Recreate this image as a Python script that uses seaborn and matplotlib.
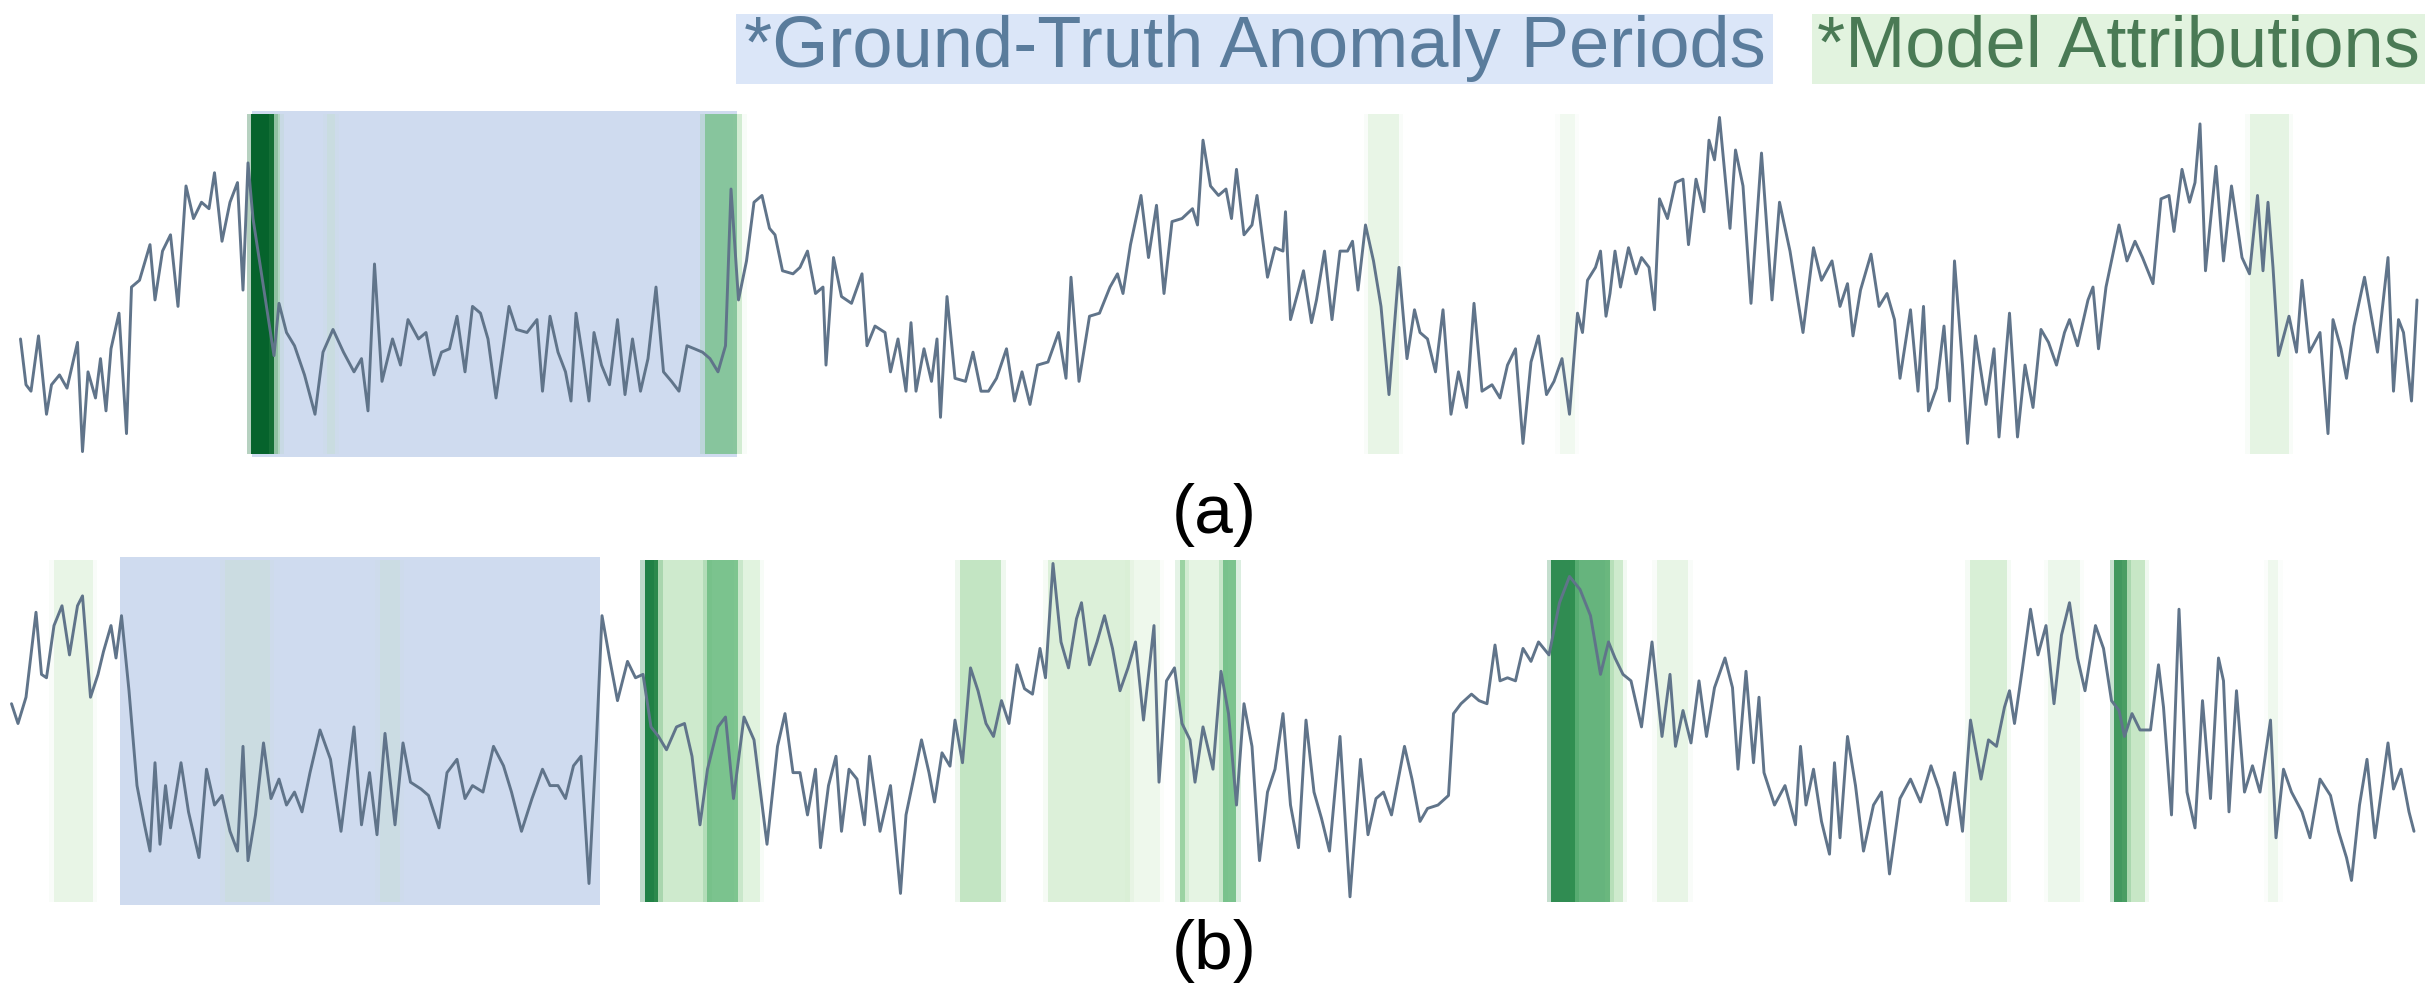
import matplotlib
matplotlib.use("Agg")
import matplotlib.pyplot as plt
import seaborn as sns
from matplotlib.patches import Rectangle

# ---------------- data ----------------
panel_labels = ["(a)", "(b)"]
legend_labels = ["*Ground-Truth Anomaly Periods", "*Model Attributions"]

time_a = [
    4.1, 5.2, 6.2, 7.7, 9.3, 10.3, 11.9, 13.4, 15.5, 16.5,
    17.6, 19.1, 20.1, 21.2, 22.2, 23.8, 25.3, 26.3, 27.9, 30.0,
    31.0, 32.5, 34.1, 35.6, 37.2, 38.7, 40.3, 41.8, 42.9, 44.4,
    46.0, 47.5, 48.6, 49.6, 50.6, 54.8, 55.8, 57.3, 58.9, 60.9,
    63.0, 64.6, 66.6, 68.7, 70.8, 72.3, 73.6, 74.9, 76.4, 78.5,
    80.1, 81.6, 83.7, 85.2, 86.8, 88.3, 89.9, 91.4, 93.0, 94.5,
    96.1, 97.6, 99.2, 100.7, 101.8, 103.3, 105.4, 107.4, 108.5, 110.0,
    111.6, 113.1, 114.2, 115.2, 116.7, 117.8, 118.8, 120.3, 121.9, 123.5,
    125.0, 126.5, 128.1, 129.6, 131.2, 132.7, 134.3, 135.8, 137.4, 138.9,
    140.5, 142.0, 143.6, 145.1, 146.2, 147.7, 149.3, 150.8, 152.4, 153.9,
    155.0, 156.5, 158.6,
    160.0, 161.5, 163.1, 164.6, 165.2, 166.7, 168.3, 170.3, 172.4, 173.4,
    175.0, 177.0, 178.1, 179.6, 181.2, 182.2, 183.2, 184.8, 186.3, 187.4,
    188.1, 189.4, 191.0, 193.1, 194.6, 196.2, 197.7, 199.3, 201.3, 202.9,
    204.4, 206.0, 207.5, 209.6, 211.7, 213.2, 214.2, 215.8, 217.9, 219.9,
    222.0, 223.5, 224.6, 226.1, 228.2, 229.7, 231.3, 232.8, 234.4, 236.4,
    238.5, 239.5, 240.6, 242.1, 243.7, 245.2, 246.3, 247.3, 248.8, 250.4,
    251.4, 253.5, 255.0, 256.6, 257.1, 258.1, 259.7, 260.7, 262.3, 263.3,
    264.9, 266.4, 268.0, 269.5, 270.5, 271.6, 273.1, 274.7, 276.2, 277.8,
    279.8, 281.4, 282.9, 284.0, 285.5, 287.1, 288.6, 290.2, 291.7, 293.3,
    294.8, 296.4, 298.4, 300.0, 301.5, 303.1, 304.6, 306.2, 307.7, 309.3,
    310.8, 312.4, 313.9, 315.5, 316.5, 317.5, 319.1, 320.1, 321.2,
    322.0, 323.0, 324.1, 325.7, 327.2, 328.3, 329.8, 330.9, 331.9, 333.5,
    335.1, 336.6, 337.7, 339.2, 340.8, 341.8, 342.9, 343.9, 346.0, 347.1,
    348.6, 350.2, 352.3, 354.4, 355.9, 358.0, 360.6, 362.7, 364.3, 366.4,
    368.0, 369.5, 370.6, 372.1, 374.2, 375.8, 377.4, 378.9, 380.0, 382.1,
    383.6, 384.7, 385.7, 387.3, 388.8, 389.9, 390.9, 392.5, 393.5, 395.1,
    397.2, 398.8, 399.8, 401.9, 403.5, 405.0, 406.6, 408.2, 409.7, 411.3,
    412.9, 413.9, 415.5, 417.6, 418.6, 419.7, 421.2, 423.8, 425.4, 427.0,
    428.5, 430.6, 432.2, 433.8, 434.8, 436.4, 437.9, 439.0, 440.0, 441.1,
    443.2, 444.7, 446.3, 448.4, 449.9, 451.5, 452.6, 453.6, 454.6, 455.7,
    457.8, 459.3, 460.4, 461.9, 464.0, 465.6, 466.6, 468.2, 469.3, 470.8,
    472.9, 475.5, 477.6, 478.7, 479.7, 480.7, 482.3, 483.4,
]
value_a = [
    33.8, 20.3, 18.4, 34.7, 11.6, 20.3, 23.2, 19.3, 32.8, 0.6,
    24.1, 16.4, 28.0, 12.6, 30.9, 41.4, 5.9, 49.1, 51.1, 61.6,
    45.3, 59.7, 64.5, 43.4, 78.9, 69.3, 74.1, 72.2, 82.8, 62.6,
    74.1, 79.9, 48.2, 85.7, 69.3, 28.9, 44.3, 35.7, 31.8, 23.2,
    11.6, 29.9, 36.6, 29.9, 24.1, 28.0, 12.6, 55.9, 21.3, 33.8,
    26.1, 39.5, 33.8, 35.7, 23.2, 29.9, 30.9, 40.5, 24.1, 43.4,
    41.4, 33.8, 16.4, 31.8, 43.4, 36.6, 35.7, 39.5, 18.4, 40.5,
    29.9, 24.1, 15.5, 41.4, 27.0, 15.5, 35.7, 26.1, 20.3, 39.5,
    17.4, 33.8, 18.4, 28.0, 49.1, 24.1, 21.3, 18.4, 31.8, 30.9,
    29.9, 28.0, 24.1, 31.8, 78.0, 45.3, 56.8, 74.1, 76.1, 66.4,
    64.5, 53.9, 53.0,
    54.9, 59.7, 47.2, 49.1, 26.1, 57.8, 46.3, 44.3, 53.0, 31.8,
    37.6, 35.7, 24.1, 33.8, 18.4, 38.6, 18.4, 30.9, 21.3, 33.8,
    10.7, 46.3, 22.2, 21.3, 29.9, 18.4, 18.4, 22.2, 30.9, 15.5,
    24.1, 14.5, 26.1, 27.0, 35.7, 22.2, 52.0, 21.3, 40.5, 41.4,
    49.1, 53.0, 47.2, 61.6, 76.1, 57.8, 73.2, 47.2, 68.4, 69.3,
    72.2, 67.4, 92.4, 78.9, 76.1, 78.0, 69.3, 83.8, 64.5, 67.4,
    76.1, 52.0, 60.7, 59.7, 71.3, 39.5, 48.2, 53.9, 38.6, 45.3,
    59.7, 39.5, 59.7, 59.7, 62.6, 48.2, 67.4, 56.8, 43.4, 17.4,
    54.9, 28.0, 42.4, 35.7, 33.8, 24.1, 42.4, 11.6, 24.1, 13.6,
    44.3, 18.4, 20.3, 16.4, 26.1, 30.9, 3.0, 27.0, 34.7, 17.4,
    21.3, 28.0, 11.6, 41.4, 35.7, 51.1, 54.9, 59.7, 40.5,
    47.2, 59.7, 49.1, 60.7, 53.0, 57.8, 54.9, 42.4, 75.1, 69.3,
    79.9, 80.9, 61.6, 80.9, 71.3, 92.4, 86.6, 99.1, 66.4, 89.5,
    78.9, 44.3, 88.6, 45.3, 74.1, 59.7, 35.7, 60.7, 51.1, 56.8,
    43.4, 50.1, 34.7, 48.2, 58.8, 43.4, 47.2, 39.5, 22.2, 42.4,
    18.4, 43.4, 12.6, 19.3, 37.6, 15.5, 56.8, 26.1, 3.0, 34.7,
    14.5, 30.9, 4.9, 41.4, 4.9, 26.1, 13.6, 36.6, 32.8, 26.1,
    35.7, 39.5, 31.8, 45.3, 49.1, 30.9, 49.1, 67.4, 56.8, 62.6,
    57.8, 50.1, 75.1, 76.1, 65.5, 83.8, 74.1, 79.9, 97.2, 53.9,
    84.7, 56.8, 78.9, 57.8, 53.0, 76.1, 53.9, 74.1, 54.9, 28.9,
    40.5, 29.9, 51.1, 29.9, 35.7, 5.9, 39.5, 30.9, 22.2, 37.6,
    52.0, 29.9, 57.8, 18.4, 39.5, 35.7, 15.5, 45.3,
]

time_b = [
    2.3, 3.6, 5.2, 7.2, 8.3, 9.3, 10.8, 12.4, 13.9, 15.5,
    16.5, 18.1, 19.6, 20.7, 22.2, 23.2, 24.3, 25.8, 27.4, 28.9,
    30.0, 31.0, 32.0, 33.1, 34.1, 36.2, 37.7, 39.8, 41.3, 42.9,
    44.4, 46.0, 47.5, 48.6, 49.6, 51.1, 52.7, 54.2, 55.8, 57.3,
    58.9, 60.4, 62.0, 64.0, 66.1, 68.2, 70.8, 72.3, 73.9, 75.4,
    77.0, 79.0, 80.6, 82.1, 84.2, 85.7, 87.8, 89.4, 91.4, 93.0,
    94.5, 96.6, 98.7, 100.7, 102.3, 104.3, 106.4, 108.5, 110.0, 111.6,
    113.1, 114.7, 116.2, 117.8, 119.3, 120.4, 121.9, 123.5, 125.5, 127.1,
    128.6, 130.2, 131.7, 133.3, 135.3, 136.9, 138.4, 140.0, 141.5, 143.6,
    145.1, 146.7, 148.8, 150.8, 153.4, 155.5, 157.0, 158.6,
    160.0, 161.5, 163.1, 164.1, 165.7, 167.2, 168.3, 169.8, 171.4, 172.9,
    173.9, 176.0, 178.1, 180.1, 181.2, 182.7, 184.3, 185.8, 186.9, 188.4,
    190.0, 191.0, 192.5, 194.1, 195.6, 197.2, 198.7, 200.3, 201.8, 203.4,
    204.9, 206.5, 208.0, 209.1, 210.6, 212.2, 213.7, 215.3, 216.3, 217.9,
    219.4, 220.9, 222.5, 224.0, 225.6, 227.1, 228.7, 230.8, 231.8, 233.3,
    234.9, 236.4, 238.0, 239.0, 240.6, 242.6, 244.2, 245.7, 247.3, 248.8,
    250.4, 251.9, 253.5, 255.0, 256.6, 258.1, 259.7, 261.2, 262.8, 264.3,
    265.9, 268.0, 270.0, 272.1, 273.6, 275.2, 276.7, 278.3, 280.9, 282.4,
    284.0, 285.5, 287.6, 289.7, 290.7, 292.2, 294.3, 295.8, 297.4, 299.0,
    300.0, 301.5, 303.1, 304.6, 306.2, 307.7, 309.8, 311.9, 313.9, 316.0,
    318.1, 320.1, 321.7,
    323.0, 324.6, 326.2, 328.3, 330.4, 332.4, 334.0, 335.1, 336.6, 338.2,
    339.8, 341.3, 342.9, 345.0, 346.5, 347.6, 349.2, 350.7, 351.8, 352.8,
    354.9, 357.0, 359.1, 360.1, 361.2, 362.7, 364.3, 365.9, 366.9, 368.0,
    369.5, 371.1, 372.7, 374.7, 376.3, 377.9, 380.0, 382.1, 384.1, 386.2,
    387.8, 389.4, 390.9, 392.5, 394.1, 396.2, 397.7, 399.3, 400.9, 401.9,
    402.9, 404.5, 406.1, 407.6, 409.2, 410.8, 412.3, 413.9, 415.5, 417.0,
    419.1, 420.7, 422.3, 423.8, 424.9, 426.4, 428.0, 430.1, 431.7, 432.7,
    434.3, 435.8, 437.4, 439.0, 440.5, 442.1, 443.7, 444.7, 445.8, 447.3,
    448.9, 450.5, 452.0, 454.1, 455.2, 456.7, 458.3, 460.4, 462.0, 464.0,
    466.1, 467.7, 469.3, 470.3, 471.9, 473.4, 475.0, 476.6, 477.6, 478.7,
    480.2, 481.8, 482.8,
]
value_b = [
    58.0, 52.2, 59.9, 84.8, 66.6, 65.6, 80.9, 86.7, 72.3, 86.7,
    89.6, 59.9, 66.6, 73.3, 80.9, 71.4, 83.8, 61.8, 34.0, 22.5,
    14.8, 40.7, 16.8, 34.0, 21.6, 40.7, 26.3, 12.9, 38.8, 28.3,
    31.1, 20.6, 14.8, 45.5, 12.0, 25.4, 46.5, 30.2, 35.9, 28.3,
    32.1, 26.3, 37.8, 50.3, 41.7, 20.6, 51.2, 22.5, 37.8, 19.6,
    49.3, 22.5, 46.5, 35.0, 33.0, 31.1, 21.6, 37.8, 41.7, 30.2,
    34.0, 32.1, 45.5, 39.8, 32.1, 20.6, 30.2, 38.8, 34.0, 34.0,
    30.2, 39.8, 42.6, 5.3, 47.4, 83.8, 71.4, 58.9, 70.4, 65.6,
    66.6, 51.2, 48.4, 44.5, 51.2, 52.2, 42.6, 22.5, 38.8, 51.2,
    54.1, 30.2, 54.1, 47.4, 16.8, 45.5, 55.1, 37.8,
    37.8, 25.4, 38.8, 15.8, 34.0, 42.6, 20.6, 38.8, 35.9, 22.5,
    42.6, 20.6, 34.0, 2.4, 25.4, 35.9, 47.4, 37.8, 29.2, 43.6,
    39.7, 53.2, 40.7, 68.5, 61.8, 52.2, 48.4, 58.9, 52.2, 69.4,
    62.4, 60.8, 74.2, 65.6, 99.1, 76.1, 68.5, 82.9, 87.6, 69.4,
    76.1, 83.8, 74.2, 61.8, 68.5, 76.1, 53.2, 80.9, 35.0, 64.7,
    68.5, 52.2, 47.4, 35.0, 51.2, 38.8, 67.5, 55.1, 28.3, 58.0,
    45.5, 12.0, 32.1, 38.8, 55.1, 28.3, 15.8, 53.2, 32.1, 24.4,
    14.8, 48.4, 1.4, 41.7, 19.6, 30.2, 32.1, 25.4, 45.5, 35.9,
    23.5, 27.3, 28.3, 31.1, 55.1, 58.0, 60.8, 58.9, 58.0, 75.2,
    64.7, 65.6, 64.7, 74.2, 70.4, 76.1, 72.3, 87.6, 95.3, 91.5,
    83.8, 66.6, 76.1,
    71.4, 66.6, 64.7, 51.2, 76.1, 48.4, 66.6, 45.5, 56.0, 46.5,
    64.7, 48.4, 62.7, 71.4, 62.7, 38.8, 67.5, 40.7, 59.9, 37.8,
    28.3, 34.0, 22.5, 45.5, 28.3, 38.8, 23.5, 13.9, 40.7, 18.7,
    48.4, 34.0, 14.8, 28.3, 32.1, 8.1, 30.2, 35.9, 29.2, 39.8,
    33.0, 22.5, 37.8, 20.6, 53.2, 35.9, 47.4, 45.5, 57.0, 61.8,
    52.2, 68.5, 85.7, 72.3, 80.9, 58.0, 78.1, 87.6, 71.4, 61.8,
    80.9, 74.2, 58.9, 56.0, 48.4, 55.1, 50.3, 50.3, 69.4, 57.0,
    25.4, 85.7, 32.1, 21.6, 58.9, 30.2, 71.4, 64.7, 26.3, 61.8,
    32.1, 39.8, 32.1, 53.2, 18.7, 38.8, 32.1, 26.3, 18.7, 35.9,
    31.1, 20.6, 12.9, 6.2, 28.3, 41.7, 18.7, 35.9, 46.5, 33.0,
    38.8, 26.3, 20.6,
]

# ground-truth anomaly periods (time steps)
anomaly_a = [50.5, 147.5]
anomaly_b = [24.0, 120.0]

# model attributions: segment start, end and strength (0..1)
attr_a_start = [50.3, 54.8, 65.5, 141.0, 147.5, 273.6, 312.0, 450.0]
attr_a_end = [54.8, 56.0, 67.0, 147.5, 148.5, 279.8, 315.0, 457.8]
attr_a_strength = [0.95, 0.25, 0.06, 0.45, 0.12, 0.10, 0.02, 0.12]

attr_b_start = [10.8, 45.0, 76.0, 129.0, 131.7, 141.5, 147.7, 192.0, 209.6, 226.0,
                236.0, 237.0, 244.7, 310.3, 315.0, 322.0, 331.4, 394.0, 409.7, 422.8,
                425.4, 453.6]
attr_b_end = [18.6, 54.0, 80.0, 131.7, 141.5, 147.7, 152.0, 200.3, 226.0, 232.0,
              237.0, 244.7, 247.3, 315.0, 322.0, 324.6, 337.7, 401.4, 416.0, 425.4,
              429.0, 455.7]
attr_b_strength = [0.10, 0.04, 0.03, 0.85, 0.25, 0.55, 0.15, 0.30, 0.18, 0.06,
                   0.45, 0.12, 0.55, 0.80, 0.62, 0.25, 0.10, 0.20, 0.07, 0.75,
                   0.28, 0.04]

# ---------------- drawing ----------------
sns.set_theme(style="white")
plt.rcParams["font.family"] = ["Liberation Sans", "DejaVu Sans"]

W, H = 2429, 994
fig = plt.figure(figsize=(W / 100, H / 100), dpi=100)
fig.patch.set_facecolor("white")

ax_a = fig.add_axes([0.0, 1 - 457 / H, 1.0, 346 / H])
ax_b = fig.add_axes([0.0, 1 - 905 / H, 1.0, 348 / H])

greens = plt.get_cmap("Greens")
line_color = "#60748a"
box_color = "#cfdbef"

panels = [
    (ax_a, time_a, value_a, anomaly_a, attr_a_start, attr_a_end, attr_a_strength),
    (ax_b, time_b, value_b, anomaly_b, attr_b_start, attr_b_end, attr_b_strength),
]
for ax, t, v, anom, s0, s1, st in panels:
    ax.axvspan(anom[0], anom[1], color=box_color, lw=0, zorder=0)
    for a, b, s in zip(s0, s1, st):
        col = greens(0.25 + 0.7 * s)
        alpha = min(1.0, 0.15 + 0.85 * s)
        # soft halo around each attribution band
        ax.axvspan(a - 0.9, b + 0.9, ymin=0.01, ymax=0.99, color=col,
                   alpha=alpha * 0.3, lw=0, zorder=1)
        ax.axvspan(a, b, ymin=0.01, ymax=0.99, color=col,
                   alpha=alpha, lw=0, zorder=1)
    sns.lineplot(x=t, y=v, ax=ax, color=line_color, lw=2.1, estimator=None,
                 sort=False, zorder=3)
    ax.set_xlim(0, W / 5)
    ax.set_ylim(-1, 101)
    ax.axis("off")

# panel labels
fig.text(0.5, 1 - 533 / H, panel_labels[0], ha="center", va="baseline",
         fontsize=50, color="black")
fig.text(0.5, 1 - 969 / H, panel_labels[1], ha="center", va="baseline",
         fontsize=50, color="black")

# legend boxes
box_y0, box_y1 = 1 - 84 / H, 1 - 14 / H
fig.add_artist(Rectangle((736 / W, box_y0), (1773 - 736) / W, box_y1 - box_y0,
                         transform=fig.transFigure, color="#dbe6f8", lw=0, zorder=0))
fig.add_artist(Rectangle((1812 / W, box_y0), (2425 - 1812) / W, box_y1 - box_y0,
                         transform=fig.transFigure, color="#e2f3df", lw=0, zorder=0))
fig.text((736 + 1773) / 2 / W, 1 - 67 / H, legend_labels[0], ha="center",
         va="baseline", fontsize=52, color="#5a7c9c", zorder=2)
fig.text((1812 + 2425) / 2 / W, 1 - 67 / H, legend_labels[1], ha="center",
         va="baseline", fontsize=52, color="#4a7a55", zorder=2)

fig.savefig("out.png", dpi=100, facecolor="white")
